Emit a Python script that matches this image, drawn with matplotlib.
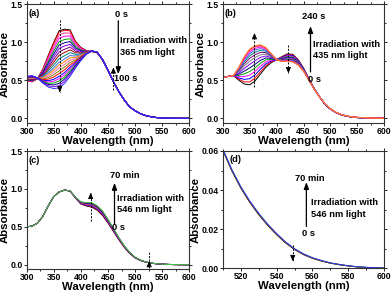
import numpy as np
import matplotlib
matplotlib.use('Agg')
import matplotlib.pyplot as plt
from matplotlib.ticker import MultipleLocator, FormatStrFormatter

plt.rcParams['font.family'] = ['Liberation Sans', 'DejaVu Sans']
plt.rcParams['font.weight'] = 'bold'
plt.rcParams['axes.labelweight'] = 'bold'

# wavelength grid (nm)
wl = [300, 310, 320, 330, 340, 350, 360, 370, 380, 390, 400, 410, 420, 430, 440, 450,
      460, 470, 480, 490, 500, 510, 520, 530, 540, 550, 560, 570, 580, 590, 600]

# (a) 365 nm irradiation, 0 s -> 100 s
a_0s = [0.49, 0.48, 0.52, 0.65, 0.83, 1.00, 1.15, 1.17, 1.16, 1.01, 0.93, 0.89, 0.877, 0.86,
        0.77, 0.63, 0.48, 0.35, 0.24, 0.15, 0.10, 0.06, 0.035, 0.02, 0.01, 0.005, 0.002,
        0.001, 0.0005, 0.0002, 0.0]
a_100s = [0.55, 0.56, 0.53, 0.46, 0.41, 0.39, 0.40, 0.46, 0.55, 0.66, 0.76, 0.84, 0.885, 0.87,
          0.77, 0.63, 0.48, 0.35, 0.24, 0.15, 0.10, 0.06, 0.035, 0.02, 0.01, 0.005, 0.002,
          0.001, 0.0005, 0.0002, 0.0]
a_frac = [0, 0.02, 0.07, 0.13, 0.19, 0.25, 0.31, 0.37, 0.43, 0.49, 0.55, 0.60, 0.65,
          0.70, 0.75, 0.80, 0.84, 0.88, 0.92, 0.96, 1.0]

# (b) 435 nm irradiation, 0 s -> 240 s
b_0s = [0.54, 0.55, 0.56, 0.50, 0.45, 0.44, 0.49, 0.58, 0.67, 0.73, 0.77, 0.81, 0.845, 0.84,
        0.77, 0.66, 0.52, 0.39, 0.28, 0.18, 0.12, 0.075, 0.045, 0.027, 0.016, 0.009, 0.005,
        0.003, 0.0015, 0.0007, 0.0]
b_240s = [0.53, 0.55, 0.56, 0.67, 0.81, 0.91, 0.955, 0.965, 0.93, 0.85, 0.77, 0.745, 0.75, 0.74,
          0.70, 0.62, 0.50, 0.38, 0.28, 0.19, 0.125, 0.08, 0.05, 0.032, 0.02, 0.013, 0.009,
          0.006, 0.004, 0.002, 0.001]
b_frac = [0, 0.08, 0.17, 0.27, 0.37, 0.47, 0.57, 0.66, 0.74, 0.81, 0.87, 0.92, 0.96, 0.98, 1.0]

# (c) 546 nm irradiation, 0 s -> 70 min
c_0s = [0.50, 0.51, 0.55, 0.64, 0.78, 0.90, 0.96, 0.985, 0.97, 0.88, 0.80, 0.775, 0.76, 0.72,
        0.65, 0.55, 0.44, 0.33, 0.23, 0.15, 0.09, 0.055, 0.033, 0.02, 0.012, 0.007, 0.004,
        0.002, 0.001, 0.0005, 0.0]
c_70min = [0.50, 0.51, 0.55, 0.64, 0.78, 0.90, 0.96, 0.985, 0.975, 0.89, 0.83, 0.82, 0.82, 0.78,
           0.71, 0.60, 0.48, 0.36, 0.25, 0.165, 0.10, 0.062, 0.037, 0.022, 0.013, 0.008, 0.005,
           0.003, 0.0015, 0.0007, 0.0002]
c_frac = [0, 0.15, 0.3, 0.45, 0.6, 0.75, 0.9, 1.0]

# (d) tail of (c), 510-600 nm
wl_d = [510, 515, 520, 525, 530, 535, 540, 545, 550, 555, 560, 565, 570, 575, 580, 585, 590, 595, 600]
d_0s = [0.0605, 0.0500, 0.0412, 0.0338, 0.0275, 0.0220, 0.0172, 0.0130, 0.0096, 0.0070, 0.0051,
        0.0037, 0.0026, 0.0018, 0.0012, 0.0007, 0.0004, 0.0002, 0.0001]
d_70min = [0.0612, 0.0507, 0.0419, 0.0345, 0.0282, 0.0226, 0.0178, 0.0135, 0.0100, 0.0074, 0.0054,
           0.0040, 0.0028, 0.0020, 0.0013, 0.0008, 0.0005, 0.0003, 0.0001]
d_frac = [0, 0.35, 0.7, 1.0]

cols_a = ['#000000', '#ff0000', '#ff3399', '#ff00ff', '#00a000', '#000080', '#8000ff', '#800080',
          '#a00000', '#008080', '#4169e1', '#ff8000', '#ff69b4', '#808000', '#ff0000', '#0000ff',
          '#ff00ff', '#00a000', '#000080', '#8000ff', '#2a2aff']
cols_b = ['#000000', '#ff0000', '#0000ff', '#ff00ff', '#00a000', '#000080', '#8000ff', '#808080',
          '#800080', '#008080', '#4169e1', '#ff00ff', '#ff69b4', '#ff0000', '#ff9040']
cols_c = ['#000000', '#ff0000', '#0000ff', '#ff00ff', '#808000', '#000080', '#800080', '#40d040']
cols_d = ['#000000', '#ff0000', '#00a000', '#3030ff']


def panel(ax, x, s0, s1, fr, cols):
    s0 = np.array(s0)
    s1 = np.array(s1)
    for f, c in zip(fr, cols):
        ax.plot(x, s0 + f * (s1 - s0), color=c, lw=0.7)


def style(ax, xmaj, xmin, ymaj, ymin):
    for sp in ax.spines.values():
        sp.set_linewidth(0.8)
        sp.set_color('#333333')
    ax.xaxis.set_major_locator(MultipleLocator(xmaj))
    ax.xaxis.set_minor_locator(MultipleLocator(xmin))
    ax.yaxis.set_major_locator(MultipleLocator(ymaj))
    ax.yaxis.set_minor_locator(MultipleLocator(ymin))
    ax.tick_params(which='both', direction='out', labelsize=6.2, width=0.6, pad=1,
                   top=True, right=True)
    ax.tick_params(which='major', length=2)
    ax.tick_params(which='minor', length=1.2)
    for lab in ax.get_xticklabels() + ax.get_yticklabels():
        lab.set_fontweight('bold')
    ax.set_xlabel('Wavelength (nm)', fontsize=8.2, labelpad=0)
    ax.set_ylabel('Absorbance', fontsize=8.2, labelpad=0.5)


def dash_arrow(ax, x, y0, y1):
    ax.plot([x, x], [y0, y1], color='k', lw=0.7, ls=(0, (2, 1.5)))
    sgn = 1 if y1 > y0 else -1
    ax.annotate('', xy=(x, y1), xytext=(0, -4 * sgn), textcoords='offset points',
                arrowprops=dict(arrowstyle='-|>,head_length=0.35,head_width=0.15',
                                color='k', lw=0.6, shrinkA=0, shrinkB=0))


def arrow(ax, x, y0, y1):
    ax.annotate('', xy=(x, y1), xytext=(x, y0),
                arrowprops=dict(arrowstyle='-|>,head_length=0.4,head_width=0.15',
                                color='k', lw=0.9, shrinkA=0, shrinkB=0))


def txt(ax, x, y, s):
    ax.text(x, y, s, fontsize=6.7, ha='left', va='center', fontweight='bold')


fig = plt.figure(figsize=(3.92, 2.93), dpi=100)
W, H = 392, 293
axa = fig.add_axes([26.7 / W, 1 - 123.3 / H, 162.6 / W, 119.3 / H])
axb = fig.add_axes([222.7 / W, 1 - 123.3 / H, 161.6 / W, 119.3 / H])
axc = fig.add_axes([26.7 / W, 1 - 269.3 / H, 162.6 / W, 118.3 / H])
axd = fig.add_axes([222.7 / W, 1 - 268.3 / H, 161.6 / W, 117.3 / H])

# (a)
panel(axa, wl, a_0s, a_100s, a_frac, cols_a)
axa.set_xlim(300, 600)
axa.set_ylim(-0.065, 1.5)
style(axa, 50, 25, 0.5, 0.25)
dash_arrow(axa, 361, 1.29, 0.34)
dash_arrow(axa, 460, 0.37, 0.67)
arrow(axa, 469, 1.28, 0.58)
txt(axa, 304, 1.38, '(a)')
txt(axa, 463, 1.36, '0 s')
txt(axa, 472, 1.02, 'Irradiation with')
txt(axa, 472, 0.865, '365 nm light')
txt(axa, 461, 0.525, '100 s')

# (b)
panel(axb, wl, b_0s, b_240s, b_frac, cols_b)
axb.set_xlim(300, 600)
axb.set_ylim(-0.065, 1.5)
style(axb, 50, 25, 0.5, 0.25)
dash_arrow(axb, 359, 0.41, 1.12)
dash_arrow(axb, 422, 0.96, 0.59)
arrow(axb, 463, 0.61, 1.21)
txt(axb, 304, 1.38, '(b)')
txt(axb, 447, 1.33, '240 s')
txt(axb, 468, 0.97, 'Irradiation with')
txt(axb, 468, 0.82, '435 nm light')
txt(axb, 459, 0.515, '0 s')

# (c)
panel(axc, wl, c_0s, c_70min, c_frac, cols_c)
axc.set_xlim(300, 600)
axc.set_ylim(-0.06, 1.5)
style(axc, 50, 25, 0.5, 0.25)
dash_arrow(axc, 418, 0.58, 0.95)
dash_arrow(axc, 526, -0.04, 0.05)
axc.plot([526, 526], [0.05, 0.18], color='k', lw=0.7, ls=(0, (2, 1.5)))
arrow(axc, 462, 0.535, 1.08)
txt(axc, 304, 1.37, '(c)')
txt(axc, 454, 1.18, '70 min')
txt(axc, 466, 0.87, 'Irradiation with')
txt(axc, 466, 0.73, '546 nm light')
txt(axc, 458, 0.49, '0 s')

# (d)
panel(axd, wl_d, d_0s, d_70min, d_frac, cols_d)
axd.set_xlim(510, 600)
axd.set_ylim(0, 0.06)
style(axd, 20, 10, 0.02, 0.01)
axd.yaxis.set_major_formatter(FormatStrFormatter('%.2f'))
dash_arrow(axd, 549, 0.0118, 0.0036)
arrow(axd, 556.6, 0.0214, 0.0441)
txt(axd, 514, 0.0557, '(d)')
txt(axd, 550.5, 0.0458, '70 min')
txt(axd, 559, 0.0338, 'Irradiation with')
txt(axd, 559, 0.0274, '546 nm light')
txt(axd, 554, 0.0177, '0 s')

plt.savefig('out.png', dpi=100)
